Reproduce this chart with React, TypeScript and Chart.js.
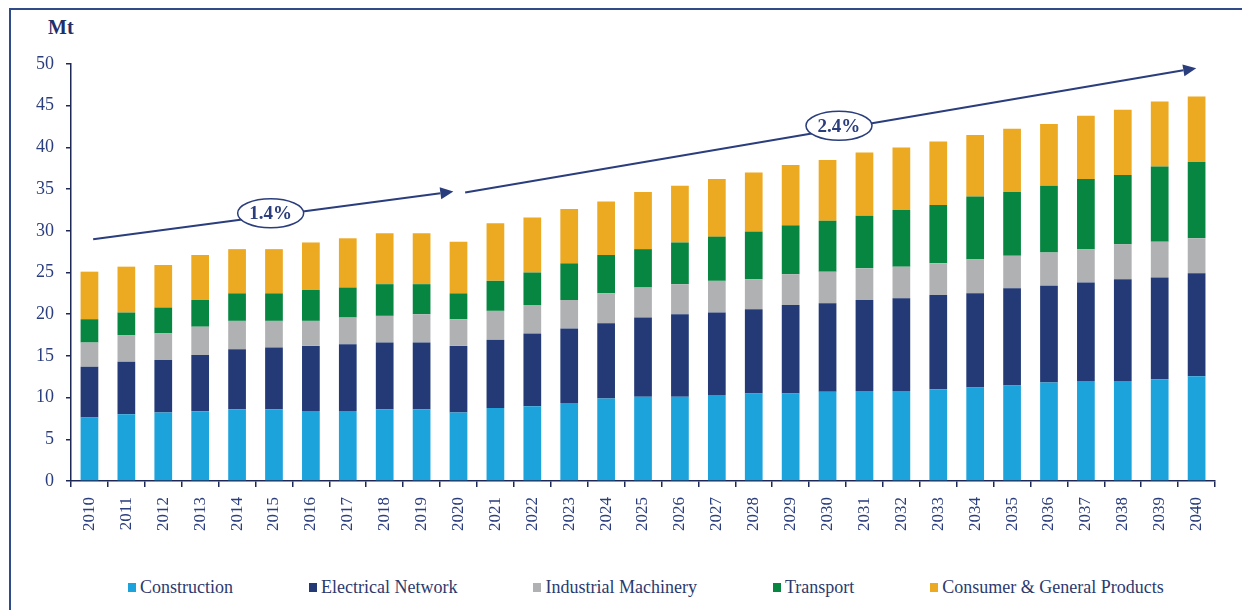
import React, { useEffect, useRef } from "react";
import { Chart, registerables } from "chart.js";

Chart.register(...registerables);

const years = [
  "2010", "2011", "2012", "2013", "2014", "2015", "2016", "2017", "2018", "2019", "2020",
  "2021", "2022", "2023", "2024", "2025", "2026", "2027", "2028", "2029", "2030",
  "2031", "2032", "2033", "2034", "2035", "2036", "2037", "2038", "2039", "2040",
];

const construction = [
  7.6, 8.0, 8.2, 8.35, 8.6, 8.6, 8.4, 8.4, 8.6, 8.6, 8.2,
  8.75, 8.95, 9.35, 9.9, 10.1, 10.1, 10.3, 10.5, 10.5, 10.7,
  10.8, 10.8, 11.0, 11.2, 11.45, 11.8, 12.0, 12.0, 12.2, 12.55,
];
const electricalNetwork = [
  6.1, 6.3, 6.3, 6.75, 7.2, 7.4, 7.8, 8.0, 8.0, 8.0, 8.0,
  8.2, 8.75, 8.95, 9.0, 9.5, 9.9, 9.9, 10.1, 10.6, 10.6,
  10.9, 11.1, 11.3, 11.3, 11.65, 11.6, 11.8, 12.2, 12.2, 12.35,
];
const industrialMachinery = [
  2.9, 3.2, 3.2, 3.4, 3.4, 3.2, 3.0, 3.2, 3.2, 3.4, 3.2,
  3.45, 3.4, 3.4, 3.6, 3.6, 3.6, 3.8, 3.6, 3.7, 3.8,
  3.8, 3.8, 3.8, 4.1, 3.9, 4.0, 4.0, 4.2, 4.3, 4.2,
];
const transport = [
  2.8, 2.7, 3.1, 3.2, 3.3, 3.3, 3.7, 3.6, 3.8, 3.6, 3.1,
  3.6, 3.9, 4.4, 4.6, 4.6, 5.0, 5.3, 5.7, 5.85, 6.1,
  6.3, 6.8, 7.0, 7.5, 7.65, 8.0, 8.4, 8.3, 9.0, 9.15,
];
const consumerGeneral = [
  5.7, 5.5, 5.1, 5.4, 5.3, 5.3, 5.7, 5.9, 6.1, 6.1, 6.2,
  6.9, 6.6, 6.5, 6.4, 6.85, 6.8, 6.9, 7.1, 7.25, 7.3,
  7.6, 7.5, 7.6, 7.4, 7.6, 7.4, 7.6, 7.8, 7.8, 7.85,
];

const seriesNames = [
  "Construction",
  "Electrical Network",
  "Industrial Machinery",
  "Transport",
  "Consumer & General Products",
];
const seriesColors = ["#1DA3DC", "#233A76", "#B0B1B3", "#078642", "#ECA922"];
const seriesValues = [construction, electricalNetwork, industrialMachinery, transport, consumerGeneral];

const yTicks = [0, 5, 10, 15, 20, 25, 30, 35, 40, 45, 50];

// growth annotations, in data units (category index, Mt)
const growthLabels = ["1.4%", "2.4%"];
const arrowFrom = [[0.1, 29.0], [10.18, 34.6]];
const arrowTo = [[9.86, 34.7], [29.99, 49.5]];
const labelAt = [[4.91, 32.1], [20.31, 42.6]];

const NAVY = "#2A3D7C";
const AXIS = "#1E2856";
const FONT = "'Liberation Serif', 'Times New Roman', serif";

const arrowsPlugin = {
  id: "growthArrows",
  afterDatasetsDraw(chart: any) {
    const { ctx, scales } = chart;
    const xs = scales.x;
    const ys = scales.y;
    ctx.save();
    for (let i = 0; i < growthLabels.length; i++) {
      const x1 = xs.getPixelForValue(arrowFrom[i][0]);
      const y1 = ys.getPixelForValue(arrowFrom[i][1]);
      const x2 = xs.getPixelForValue(arrowTo[i][0]);
      const y2 = ys.getPixelForValue(arrowTo[i][1]);
      const ang = Math.atan2(y2 - y1, x2 - x1);
      const headLen = 13;
      const headHalf = 6;
      const bx = x2 - headLen * Math.cos(ang);
      const by = y2 - headLen * Math.sin(ang);
      ctx.strokeStyle = NAVY;
      ctx.fillStyle = NAVY;
      ctx.lineWidth = 2;
      ctx.beginPath();
      ctx.moveTo(x1, y1);
      ctx.lineTo(bx, by);
      ctx.stroke();
      ctx.beginPath();
      ctx.moveTo(x2, y2);
      ctx.lineTo(bx + headHalf * Math.sin(ang), by - headHalf * Math.cos(ang));
      ctx.lineTo(bx - headHalf * Math.sin(ang), by + headHalf * Math.cos(ang));
      ctx.closePath();
      ctx.fill();

      const cx = xs.getPixelForValue(labelAt[i][0]);
      const cy = ys.getPixelForValue(labelAt[i][1]);
      ctx.beginPath();
      ctx.ellipse(cx, cy, 33, 14.5, 0, 0, Math.PI * 2);
      ctx.fillStyle = "#FFFFFF";
      ctx.fill();
      ctx.lineWidth = 1.5;
      ctx.strokeStyle = NAVY;
      ctx.stroke();
      ctx.fillStyle = NAVY;
      ctx.font = `bold 19px ${FONT}`;
      ctx.textAlign = "center";
      ctx.textBaseline = "middle";
      ctx.fillText(growthLabels[i], cx, cy + 1);
    }
    ctx.restore();
  },
};

export default function App() {
  const canvasRef = useRef<HTMLCanvasElement | null>(null);

  useEffect(() => {
    if (!canvasRef.current) return;
    const chart = new Chart(canvasRef.current, {
      type: "bar",
      data: {
        labels: years,
        datasets: seriesNames.map((name, i) => ({
          label: name,
          data: seriesValues[i],
          backgroundColor: seriesColors[i],
          borderWidth: 0,
          barPercentage: 0.48,
          categoryPercentage: 1.0,
        })),
      },
      options: {
        animation: false,
        responsive: false,
        maintainAspectRatio: false,
        layout: { padding: { top: 54, left: 0, right: 0, bottom: 0 } },
        plugins: {
          legend: { display: false },
          tooltip: { enabled: false },
          title: { display: false },
        },
        scales: {
          x: {
            stacked: true,
            afterFit: (s: any) => {
              s.height = 60;
            },
            grid: {
              display: true,
              drawOnChartArea: false,
              drawTicks: true,
              tickLength: 6,
              color: AXIS,
              lineWidth: 1.5,
              offset: true,
            },
            border: { display: true, color: AXIS, width: 1.5 },
            ticks: {
              autoSkip: false,
              minRotation: 90,
              maxRotation: 90,
              padding: 10,
              color: NAVY,
              font: { family: FONT, size: 17 },
            },
          },
          y: {
            stacked: true,
            min: 0,
            max: 50,
            afterFit: (s: any) => {
              s.width = 60;
            },
            afterBuildTicks: (s: any) => {
              s.ticks = yTicks.map((v) => ({ value: v }));
            },
            grid: {
              display: true,
              drawOnChartArea: false,
              drawTicks: true,
              tickLength: 5,
              color: AXIS,
              lineWidth: 1.5,
            },
            border: { display: true, color: AXIS, width: 1.5 },
            ticks: {
              padding: 12,
              color: NAVY,
              font: { family: FONT, size: 18 },
            },
          },
        },
      },
      plugins: [arrowsPlugin],
    });
    return () => chart.destroy();
  }, []);

  return (
    <div
      style={{
        position: "fixed",
        left: 9,
        top: 8,
        right: 0,
        bottom: 0,
        borderTop: "2px solid #2F4B8A",
        borderLeft: "2px solid #2F4B8A",
        background: "#FFFFFF",
        overflow: "hidden",
      }}
    >
      <div
        style={{
          position: "absolute",
          left: 37,
          top: 6,
          fontFamily: FONT,
          fontWeight: "bold",
          fontSize: 20,
          color: "#1F2F6B",
        }}
      >
        Mt
      </div>
      <canvas
        ref={canvasRef}
        width={1216}
        height={531}
        style={{ position: "absolute", left: 0, top: 0, width: 1216, height: 531 }}
      />
      <div
        style={{
          position: "absolute",
          left: 117,
          top: 567,
          display: "flex",
          gap: 76,
          alignItems: "center",
          fontFamily: FONT,
          fontSize: 18,
          color: "#2B3A6E",
          whiteSpace: "nowrap",
        }}
      >
        {seriesNames.map((name, i) => (
          <div key={name} style={{ display: "flex", alignItems: "center" }}>
            <span
              style={{
                display: "inline-block",
                width: 8,
                height: 9,
                background: seriesColors[i],
                marginRight: 4,
              }}
            />
            <span>{name}</span>
          </div>
        ))}
      </div>
    </div>
  );
}
